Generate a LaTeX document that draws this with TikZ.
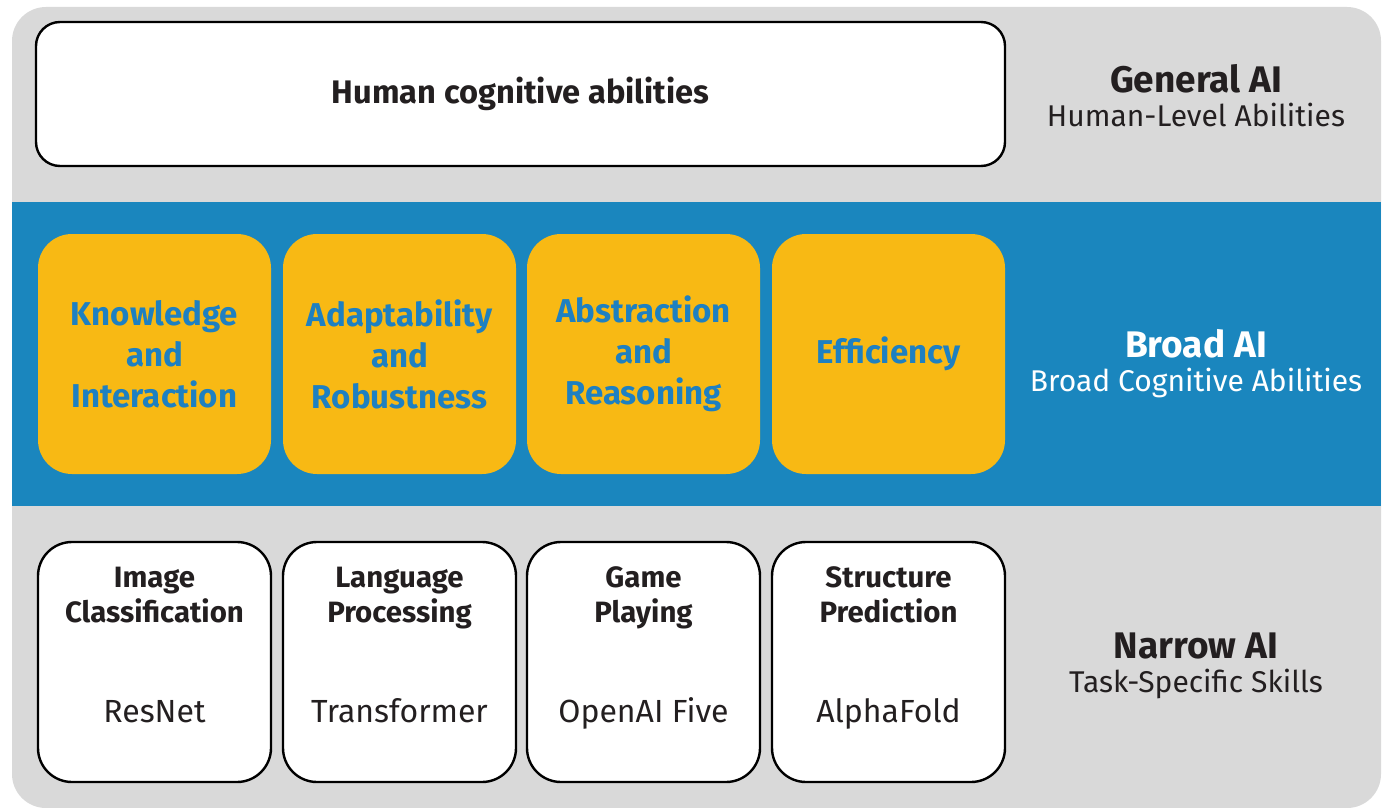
\documentclass[tikz,border=0pt]{standalone}
\usepackage{fontspec}
\setmainfont{Fira Sans}
\usetikzlibrary{positioning}
\usepackage{xcolor}
\definecolor{panelgray}{HTML}{D9D9D9}
\definecolor{bandblue}{HTML}{1A86BE}
\definecolor{amber}{HTML}{F8B914}
\definecolor{textblue}{HTML}{1E80C1}
\definecolor{ink}{HTML}{231F20}

\begin{document}
\begin{tikzpicture}[
    x=0.5pt, y=-0.5pt,
    goalbox/.style={
        draw=black,
        line width=1.2pt,
        fill=white,
        rounded corners=12pt,
        minimum width=484.5pt,
        minimum height=72pt,
        text=ink,
        font=\fontsize{16.3}{19}\selectfont\bfseries,
    },
    abilitybox/.style={
        fill=amber,
        rounded corners=17pt,
        minimum width=116.5pt,
        minimum height=120pt,
        align=center,
        text=textblue,
        font=\fontsize{16.5}{20.5}\selectfont\bfseries,
    },
    skillbox/.style={
        draw=black,
        line width=1.2pt,
        fill=white,
        rounded corners=17pt,
        minimum width=116.5pt,
        minimum height=120pt,
    },
    skilltitle/.style={
        anchor=north,
        align=center,
        text=ink,
        font=\fontsize{14.7}{17.5}\selectfont\bfseries,
    },
    skillmodel/.style={
        anchor=base,
        text=ink,
        font=\fontsize{16}{19}\selectfont,
    },
    levellabel/.style={
        align=center,
        text=ink,
    },
]

\useasboundingbox (0,0) rectangle (1386,808);

% background panel and the blue band in the middle
\fill[panelgray, rounded corners=17pt] (12,7) rectangle (1381,808);
\fill[bandblue] (12,202) rectangle (1381,506);

% general AI
\node[goalbox] (goal) at (520.5,94) {Human cognitive abilities};

% broad AI abilities and narrow AI skills, column by column
\foreach \x/\name/\ability/\title/\model in {
    154.5/knowledge/{Knowledge\\and\\Interaction}/{Image\\Classification}/ResNet,
    399.5/adapt/{Adaptability\\and\\Robustness}/{Language\\Processing}/Transformer,
    643.5/abstract/{Abstraction\\and\\Reasoning}/{Game\\Playing}/OpenAI Five,
    888.5/efficiency/{Efficiency}/{Structure\\Prediction}/AlphaFold%
} {
    \node[abilitybox] (ability-\name) at (\x,354) {\ability};
    \node[skillbox] (skill-\name) at (\x,662) {};
    \node[skilltitle] (title-\name) at (\x,560) {\title};
    \node[skillmodel] (model-\name) at (\x,722) {\model};
}

% level labels on the right
\node[levellabel] (general) at (1196,96)
    {{\fontsize{18.5}{20}\selectfont\bfseries General AI}\\[4pt]
     {\fontsize{15}{18}\selectfont Human-Level Abilities}};
\node[levellabel, text=white] (broad) at (1196,364)
    {{\fontsize{18.5}{20}\selectfont\bfseries Broad AI}\\[4pt]
     {\fontsize{15}{18}\selectfont Broad Cognitive Abilities}};
\node[levellabel] (narrow) at (1196,666)
    {{\fontsize{18.5}{20}\selectfont\bfseries Narrow AI}\\[4pt]
     {\fontsize{15}{18}\selectfont Task-Specific Skills}};

\end{tikzpicture}
\end{document}
